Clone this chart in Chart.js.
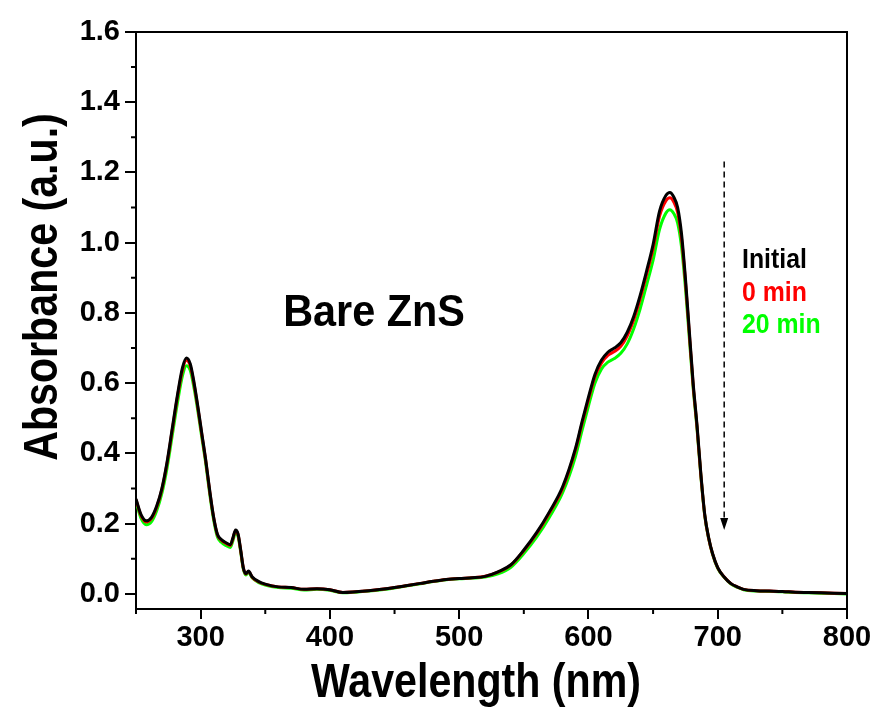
<!DOCTYPE html>
<html>
<head>
<meta charset="utf-8">
<script src="https://cdn.jsdelivr.net/npm/chart.js@4/dist/chart.umd.min.js"></script>
<style>
  body { margin: 0; background: #fff; }
</style>
</head>
<body>
<canvas id="c" width="880" height="707"></canvas>
<script>
// 波長 (nm)
const wavelength = [250,254,258,262,266,270,274,278,282,286,289,292,295,298,301,304,307,310,313,316,320,323,325,327,329,331,333,335,337,340,345,350,360,370,380,390,400,410,420,430,440,450,460,470,480,490,500,510,520,530,540,550,560,570,580,590,595,600,605,610,615,620,625,630,635,640,645,650,655,660,663,666,669,672,675,678,681,684,687,690,693,696,700,705,710,715,720,730,740,750,760,770,780,790,800]

const initial = [0.270,0.225,0.208,0.218,0.250,0.300,0.375,0.470,0.565,0.645,0.672,0.655,0.600,0.530,0.455,0.380,0.295,0.220,0.170,0.155,0.145,0.140,0.160,0.182,0.170,0.125,0.075,0.058,0.065,0.048,0.035,0.028,0.020,0.018,0.013,0.015,0.012,0.004,0.006,0.009,0.013,0.018,0.024,0.030,0.036,0.041,0.044,0.046,0.050,0.063,0.083,0.125,0.175,0.235,0.305,0.415,0.490,0.560,0.625,0.665,0.688,0.700,0.715,0.745,0.790,0.850,0.920,0.995,1.090,1.135,1.143,1.130,1.100,1.025,0.900,0.750,0.600,0.480,0.340,0.225,0.160,0.115,0.075,0.048,0.030,0.020,0.013,0.009,0.008,0.007,0.005,0.004,0.003,0.002,0.001]

const min0 = [0.268,0.222,0.205,0.215,0.247,0.297,0.371,0.465,0.559,0.638,0.665,0.649,0.595,0.526,0.451,0.377,0.292,0.218,0.168,0.153,0.143,0.138,0.158,0.180,0.168,0.123,0.074,0.057,0.064,0.047,0.034,0.027,0.020,0.018,0.013,0.015,0.012,0.004,0.006,0.009,0.013,0.018,0.024,0.030,0.036,0.041,0.044,0.046,0.050,0.062,0.082,0.123,0.172,0.232,0.300,0.410,0.484,0.553,0.618,0.657,0.679,0.690,0.705,0.735,0.780,0.840,0.910,0.983,1.076,1.120,1.128,1.116,1.086,1.012,0.890,0.742,0.594,0.475,0.336,0.223,0.158,0.114,0.074,0.048,0.030,0.020,0.013,0.009,0.008,0.007,0.005,0.004,0.003,0.002,0.001]

const min20 = [0.262,0.214,0.197,0.206,0.237,0.286,0.358,0.450,0.543,0.622,0.650,0.636,0.584,0.517,0.443,0.370,0.285,0.212,0.162,0.147,0.137,0.132,0.152,0.175,0.163,0.119,0.071,0.054,0.061,0.045,0.032,0.025,0.018,0.016,0.011,0.013,0.010,0.003,0.005,0.008,0.012,0.017,0.023,0.029,0.035,0.040,0.043,0.045,0.048,0.057,0.076,0.115,0.162,0.220,0.288,0.392,0.465,0.535,0.600,0.640,0.660,0.670,0.685,0.712,0.755,0.812,0.880,0.950,1.038,1.085,1.094,1.083,1.056,0.988,0.872,0.730,0.586,0.470,0.333,0.221,0.157,0.113,0.073,0.047,0.029,0.019,0.012,0.008,0.007,0.006,0.004,0.003,0.002,0.001,0.000]

const xMajor = [300,400,500,600,700,800]
const xMinor = [250,350,450,550,650,750]
const yMajor = [0,0.2,0.4,0.6,0.8,1.0,1.2,1.4,1.6]
const yMinor = [0.1,0.3,0.5,0.7,0.9,1.1,1.3,1.5]

const legendLabels = ['Initial', '0 min', '20 min']
const legendColors = ['#000000', '#ff0000', '#00ff00']

const arrowX = [705, 705]
const arrowY = [1.231, 0.182]

const FONT = "'Liberation Sans', Arial, sans-serif"

function toPoints(ys){
    return wavelength.map((w, i) => ({x: w, y: ys[i]}))
}

function drawText(ctx, text, x, y, size, sx, color, align){
    ctx.save()
    ctx.translate(x, y)
    ctx.scale(sx, 1)
    ctx.font = `bold ${size}px ${FONT}`
    ctx.fillStyle = color
    ctx.textAlign = align
    ctx.textBaseline = 'alphabetic'
    ctx.fillText(text, 0, 0)
    ctx.restore()
}

const extras = {
    id: 'extras',
    afterDraw(chart){
        const ctx = chart.ctx
        const a = chart.chartArea
        const xs = chart.scales.x
        const ys = chart.scales.y

        // 枠 (上と右)
        ctx.save()
        ctx.strokeStyle = '#000'
        ctx.lineWidth = 2
        ctx.beginPath()
        ctx.moveTo(a.left, a.top)
        ctx.lineTo(a.right, a.top)
        ctx.lineTo(a.right, a.bottom)
        ctx.stroke()

        // 補助目盛
        ctx.lineWidth = 2
        ctx.beginPath()
        xMinor.forEach(v => {
            const px = xs.getPixelForValue(v)
            ctx.moveTo(px, a.bottom)
            ctx.lineTo(px, a.bottom + 5)
        })
        yMinor.forEach(v => {
            const py = ys.getPixelForValue(v)
            ctx.moveTo(a.left, py)
            ctx.lineTo(a.left - 5, py)
        })
        ctx.stroke()

        // 矢印
        const ax = xs.getPixelForValue(arrowX[0])
        const ay0 = ys.getPixelForValue(arrowY[0])
        const ay1 = ys.getPixelForValue(arrowY[1])
        ctx.lineWidth = 1.5
        ctx.setLineDash([6, 4])
        ctx.beginPath()
        ctx.moveTo(ax, ay0)
        ctx.lineTo(ax, ay1 - 10)
        ctx.stroke()
        ctx.setLineDash([])
        ctx.fillStyle = '#000'
        ctx.beginPath()
        ctx.moveTo(ax, ay1)
        ctx.lineTo(ax - 4, ay1 - 12)
        ctx.lineTo(ax + 4, ay1 - 12)
        ctx.closePath()
        ctx.fill()
        ctx.restore()

        // 軸タイトル
        drawText(ctx, 'Wavelength (nm)', 476, 697, 49, 0.84, '#000', 'center')
        ctx.save()
        ctx.translate(57, 287)
        ctx.rotate(-Math.PI/2)
        drawText(ctx, 'Absorbance (a.u.)', 0, 0, 49, 0.84, '#000', 'center')
        ctx.restore()

        // 注記
        drawText(ctx, 'Bare ZnS', 374, 326, 44, 0.94, '#000', 'center')
        legendLabels.forEach((t, i) => {
            drawText(ctx, t, 742, 268 + i*32.5, 27, 0.92, legendColors[i], 'left')
        })
    }
}

new Chart(document.getElementById('c'), {
    type: 'line',
    data: {
        datasets: [
            {label: 'Initial', data: toPoints(initial), borderColor: '#000000', order: 1},
            {label: '0 min', data: toPoints(min0), borderColor: '#ff0000', order: 2},
            {label: '20 min', data: toPoints(min20), borderColor: '#00ff00', order: 3}
        ].map(d => Object.assign(d, {
            borderWidth: 3,
            pointRadius: 0,
            fill: false,
            cubicInterpolationMode: 'monotone'
        }))
    },
    options: {
        responsive: false,
        animation: false,
        layout: {padding: {top: 32, right: 33, left: 0, bottom: 0}},
        plugins: {legend: {display: false}, tooltip: {enabled: false}},
        scales: {
            x: {
                type: 'linear',
                min: 250,
                max: 800,
                afterBuildTicks: s => { s.ticks = xMajor.map(v => ({value: v})) },
                afterFit: s => { s.height = 98 },
                ticks: {
                    color: '#000',
                    font: {family: FONT, size: 29, weight: 'bold'},
                    padding: 2,
                    maxRotation: 0,
                    callback: v => String(v)
                },
                grid: {drawOnChartArea: false, color: '#000', lineWidth: 2, tickLength: 10},
                border: {display: true, color: '#000', width: 2}
            },
            y: {
                min: -0.043,
                max: 1.6,
                afterBuildTicks: s => { s.ticks = yMajor.map(v => ({value: v})) },
                afterFit: s => { s.width = 136 },
                ticks: {
                    color: '#000',
                    font: {family: FONT, size: 29, weight: 'bold'},
                    padding: 5,
                    callback: v => Number(v).toFixed(1)
                },
                grid: {drawOnChartArea: false, color: '#000', lineWidth: 2, tickLength: 11},
                border: {display: true, color: '#000', width: 2}
            }
        }
    },
    plugins: [extras]
})
</script>
</body>
</html>
